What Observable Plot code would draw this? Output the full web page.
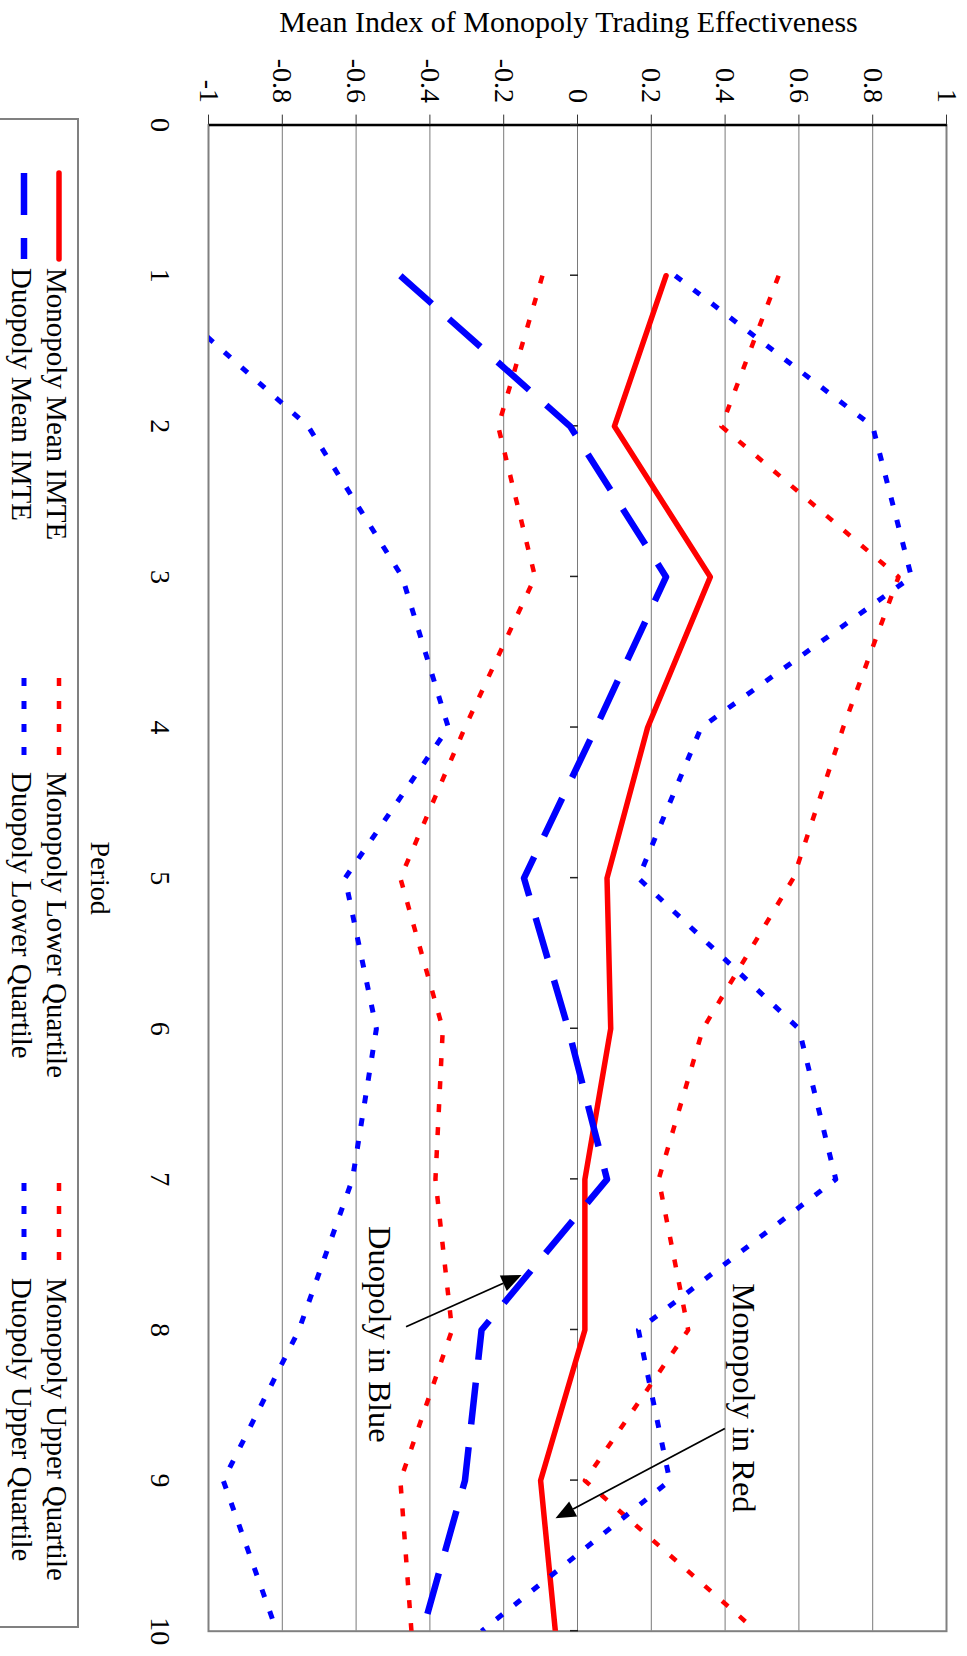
<!DOCTYPE html>
<html>
<head>
<meta charset="utf-8">
<script src="https://cdn.jsdelivr.net/npm/d3@7"></script>
<script src="https://cdn.jsdelivr.net/npm/@observablehq/plot@0.6"></script>
<style>
html, body { margin:0; padding:0; background:#fff; overflow:hidden; }
#wrap { position:absolute; left:0; top:0; width:1656px; height:967px; transform-origin:0 0;
  transform: translate(967px,0) rotate(90deg); background:#fff;
  font-family: "Liberation Serif","Times New Roman",serif; }
#wrap svg { display:block; }
</style>
</head>
<body>
<div id="wrap"></div>
<script>
// ---- data ----
const periods = [1, 2, 3, 4, 5, 6, 7, 8, 9, 10];
const periodTicks = [0, 1, 2, 3, 4, 5, 6, 7, 8, 9, 10];
const valueTicks = [-1, -0.8, -0.6, -0.4, -0.2, 0, 0.2, 0.4, 0.6, 0.8, 1];

const monopolyMean = [0.24, 0.10, 0.36, 0.19, 0.08, 0.09, 0.02, 0.02, -0.10, -0.06];
const monopolyLower = [-0.095, -0.215, -0.115, -0.305, -0.48, -0.365, -0.385, -0.34, -0.48, -0.45];
const monopolyUpper = [0.545, 0.39, 0.87, 0.72, 0.585, 0.34, 0.22, 0.30, 0.02, 0.485];
const duopolyMean = [-0.48, -0.02, 0.24, 0.05, -0.145, -0.025, 0.08, -0.26, -0.305, -0.42];
const duopolyLower = [-1.19, -0.73, -0.475, -0.35, -0.63, -0.545, -0.61, -0.755, -0.96, -0.815];
const duopolyUpper = [0.265, 0.80, 0.905, 0.335, 0.165, 0.60, 0.70, 0.165, 0.25, -0.26];

const seriesNames = ["Monopoly Mean IMTE", "Monopoly Lower Quartile", "Monopoly Upper Quartile",
                     "Duopoly Mean IMTE", "Duopoly Lower Quartile", "Duopoly Upper Quartile"];
const seriesValues = [monopolyMean, monopolyLower, monopolyUpper, duopolyMean, duopolyLower, duopolyUpper];

const titleText = "Mean Index of Monopoly Trading Effectiveness";
const xLabelText = "Period";

const annoLabels = ["Monopoly in Red", "Duopoly in Blue"];
const annoTextPeriod = [7.69, 7.31];
const annoTextValue = [0.45, -0.537];
const annoFromPeriod = [8.657, 7.982];
const annoFromValue = [0.398, -0.466];
const annoToPeriod = [9.254, 7.639];
const annoToValue = [-0.061, -0.153];

// ---- styles ----
const FONT = '"Liberation Serif","Times New Roman",serif';
const RED = "#FF0000", BLUE = "#0000FF";
const styles = [
  {stroke: RED, strokeWidth: 5.5, dash: null, cap: "round"},
  {stroke: RED, strokeWidth: 4.5, dash: "8,15", cap: "butt"},
  {stroke: RED, strokeWidth: 4.5, dash: "8,15", cap: "butt"},
  {stroke: BLUE, strokeWidth: 6.5, dash: "42,23", cap: "butt"},
  {stroke: BLUE, strokeWidth: 5, dash: "8,15", cap: "butt"},
  {stroke: BLUE, strokeWidth: 5, dash: "8,15", cap: "butt"}
];

const rows = seriesValues.map(vals => periods.map((p, i) => ({period: p, value: vals[i]})));

const lineMarks = rows.map((data, k) => Plot.line(data, {
  x: "period", y: "value",
  stroke: styles[k].stroke, strokeWidth: styles[k].strokeWidth,
  strokeDasharray: styles[k].dash, strokeLinecap: styles[k].cap,
  strokeLinejoin: "round", clip: true
}));

const fmt = d => String(Math.round(d * 10) / 10);

// small tick marks along the zero line (category axis crossing at 0)
function zeroTicks(index, scales) {
  const g = d3.create("svg:g").attr("stroke", "#222").attr("stroke-width", 1.5);
  for (const p of periodTicks) {
    const x = scales.x(p), y = scales.y(0);
    g.append("line").attr("x1", x).attr("x2", x).attr("y1", y).attr("y2", y + 8);
  }
  return g.node();
}

// annotation arrows with filled heads
function annoArrows(index, scales) {
  const g = d3.create("svg:g");
  annoLabels.forEach((_, i) => {
    const x1 = scales.x(annoFromPeriod[i]), y1 = scales.y(annoFromValue[i]);
    const x2 = scales.x(annoToPeriod[i]), y2 = scales.y(annoToValue[i]);
    const len = Math.hypot(x2 - x1, y2 - y1), ux = (x2 - x1) / len, uy = (y2 - y1) / len;
    const L = 20, W = 17;
    const bx = x2 - ux * L, by = y2 - uy * L;
    g.append("line").attr("x1", x1).attr("y1", y1).attr("x2", bx).attr("y2", by)
      .attr("stroke", "black").attr("stroke-width", 1.8);
    g.append("polygon")
      .attr("points", [[x2, y2], [bx - uy * W / 2, by + ux * W / 2], [bx + uy * W / 2, by - ux * W / 2]].map(p => p.join(",")).join(" "))
      .attr("fill", "black");
  });
  return g.node();
}

const plot = Plot.plot({
  width: 1656, height: 888,
  marginLeft: 124.6, marginRight: 25.3, marginTop: 20, marginBottom: 130,
  x: {domain: [0, 10]},
  y: {domain: [-1, 1]},
  style: {fontFamily: FONT, fontSize: "28px", color: "black", background: "white", overflow: "visible"},
  marks: [
    Plot.gridY(valueTicks, {stroke: "#7a7a7a", strokeOpacity: 1, strokeWidth: 1}),
    Plot.frame({stroke: "#808080", strokeWidth: 2}),
    Plot.ruleX([0], {stroke: "black", strokeWidth: 2.5}),
    Plot.axisY(valueTicks, {tickSize: 10, tickPadding: 12, tickFormat: fmt, fontSize: 28, stroke: "#333", label: null}),
    Plot.axisX(periodTicks, {tickSize: 0, tickPadding: 38, tickFormat: d => String(d), fontSize: 28, label: null}),
    zeroTicks,
    ...lineMarks,
    Plot.text([titleText], {text: d => d, frameAnchor: "left", dx: -102.6, dy: 9, rotate: -90, fontSize: 30,
      textAnchor: "middle", lineAnchor: "middle"}),
    Plot.text([xLabelText], {text: d => d, frameAnchor: "bottom", dy: 109, fontSize: 28,
      textAnchor: "middle", lineAnchor: "middle"}),
    Plot.text(annoLabels, {x: (d, i) => annoTextPeriod[i], y: (d, i) => annoTextValue[i], text: d => d,
      textAnchor: "start", lineAnchor: "middle", fontSize: 32.5}),
    annoArrows
  ]
});

const wrap = document.getElementById("wrap");
wrap.appendChild(plot);

// ---- legend (below the chart in the unrotated frame) ----
const legendCols = {sampleX: [173, 678, 1183], textX: [268, 772, 1278]};
const legendRows = {lineY: [20, 55], baseY: [32, 67]};
const legendOrder = [[0, 1, 2], [3, 4, 5]]; // row -> series index per column
const leg = d3.create("svg").attr("width", 1656).attr("height", 79)
  .style("font-family", FONT).style("background", "white");
leg.append("rect").attr("x", 119).attr("y", 1).attr("width", 1508).attr("height", 84)
  .attr("fill", "none").attr("stroke", "#808080").attr("stroke-width", 2);
legendOrder.forEach((row, r) => row.forEach((k, c) => {
  const s = styles[k];
  leg.append("line")
    .attr("x1", legendCols.sampleX[c]).attr("x2", legendCols.sampleX[c] + 86)
    .attr("y1", legendRows.lineY[r]).attr("y2", legendRows.lineY[r])
    .attr("stroke", s.stroke).attr("stroke-width", s.strokeWidth)
    .attr("stroke-dasharray", s.dash).attr("stroke-linecap", s.cap);
  leg.append("text").attr("x", legendCols.textX[c]).attr("y", legendRows.baseY[r])
    .attr("font-size", 29).attr("fill", "black").text(seriesNames[k]);
}));
wrap.appendChild(leg.node());
</script>
</body>
</html>
